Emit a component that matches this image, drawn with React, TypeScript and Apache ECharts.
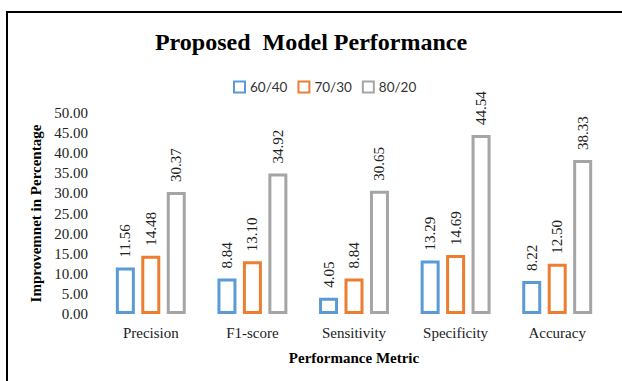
import React, { useEffect, useRef } from "react";
import * as echarts from "echarts";

const categories = ["Precision", "F1-score", "Sensitivity", "Specificity", "Accuracy"];
const s6040 = [11.56, 8.84, 4.05, 13.29, 8.22];
const s7030 = [14.48, 13.1, 8.84, 14.69, 12.5];
const s8020 = [30.37, 34.92, 30.65, 44.54, 38.33];
const seriesNames = ["60/40", "70/30", "80/20"];
const colors = ["#5B9BD5", "#ED7D31", "#A5A5A5"];

const serif = "'Liberation Serif', 'Times New Roman', serif";

export default function App() {
  const ref = useRef<HTMLDivElement>(null);
  useEffect(() => {
    const chart = echarts.init(ref.current!, null, { renderer: "svg" });
    const data = [s6040, s7030, s8020];
    chart.setOption({
      animation: false,
      backgroundColor: "#fff",
      title: {
        text: "Proposed  Model Performance",
        left: "center",
        top: 25,
        textStyle: { fontFamily: serif, fontSize: 24, fontWeight: "bold", color: "#000" },
      },
      legend: {
        top: 75,
        left: 228,
        itemWidth: 11,
        itemHeight: 11,
        itemGap: 10,
        icon: "rect",
        textStyle: { fontFamily: "Lato, 'Liberation Sans', sans-serif", fontSize: 13.5, color: "#333" },
        data: seriesNames,
      },
      graphic: [
        {
          type: "polyline",
          shape: { points: [[7, 420], [7, 12], [640, 12]] },
          style: { stroke: "#000", lineWidth: 2, fill: "none" },
          silent: true,
        },
      ],
      grid: { left: 100, right: 14, top: 113, bottom: 67 },
      xAxis: {
        type: "category",
        data: categories,
        axisLine: { show: false },
        axisTick: { show: false },
        axisLabel: { fontFamily: serif, fontSize: 15, color: "#222", margin: 11 },
        name: "Performance Metric",
        nameLocation: "middle",
        nameGap: 36,
        nameTextStyle: { fontFamily: serif, fontSize: 15, fontWeight: "bold", color: "#000" },
      },
      yAxis: {
        type: "value",
        min: 0,
        max: 50,
        interval: 5,
        axisLine: { show: false },
        axisTick: { show: false },
        splitLine: { show: false },
        axisLabel: {
          fontFamily: serif,
          fontSize: 15,
          color: "#222",
          margin: 12,
          formatter: (v: number) => v.toFixed(2),
        },
        name: "Improvemnet in Percentage",
        nameLocation: "middle",
        nameGap: 52,
        nameTextStyle: { fontFamily: serif, fontSize: 15, fontWeight: "bold", color: "#000" },
      },
      series: seriesNames.map((n, i) => ({
        name: n,
        type: "bar",
        data: data[i],
        barWidth: 19,
        barGap: "34%",
        itemStyle: { color: "#fff", borderColor: colors[i], borderWidth: 3 },
        label: {
          show: true,
          position: "top",
          rotate: 90,
          align: "left",
          verticalAlign: "middle",
          distance: 10,
          fontFamily: serif,
          fontSize: 15,
          color: "#222",
          formatter: (p: any) => Number(p.value).toFixed(2),
        },
      })),
    });
    return () => chart.dispose();
  }, []);
  return (
    <div
      ref={ref}
      style={{ position: "fixed", left: 0, top: 0, width: 622, height: 381 }}
    />
  );
}
